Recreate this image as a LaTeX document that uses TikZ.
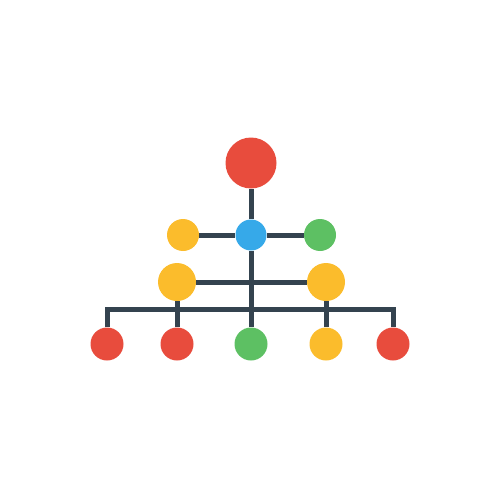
\documentclass[tikz,border=0pt]{standalone}
\usepackage{xcolor}
\usepackage{tikz}
\definecolor{cRed}{HTML}{E84C3D}
\definecolor{cBlue}{HTML}{36A9E9}
\definecolor{cYellow}{HTML}{FBBC2C}
\definecolor{cGreen}{HTML}{5DC063}
\definecolor{cLine}{HTML}{34434F}
\tikzset{
  dot/.style={circle, fill=#1, inner sep=0pt},
  link/.style={draw=cLine, line width=5*0.02cm, line join=miter}
}
\begin{document}
\begin{tikzpicture}[x=0.02cm, y=-0.02cm]
\useasboundingbox (0,0) rectangle (500,500);
\node [dot=cRed, minimum size=51*0.02cm] (top) at (251,163) {};
\node [dot=cBlue, minimum size=31*0.02cm] (hub) at (251,235) {};
\node [dot=cYellow, minimum size=32*0.02cm] (left) at (183,235) {};
\node [dot=cGreen, minimum size=32*0.02cm] (right) at (320,235) {};
\node [dot=cYellow, minimum size=38*0.02cm] (midL) at (177,282) {};
\node [dot=cYellow, minimum size=38*0.02cm] (midR) at (326,282) {};
\node [dot=cRed, minimum size=33*0.02cm] (b1) at (107,344) {};
\node [dot=cRed, minimum size=33*0.02cm] (b2) at (177,344) {};
\node [dot=cGreen, minimum size=33*0.02cm] (b3) at (251,344) {};
\node [dot=cYellow, minimum size=33*0.02cm] (b4) at (326,344) {};
\node [dot=cRed, minimum size=33*0.02cm] (b5) at (393,344) {};
\coordinate (barL) at (107,309);
\coordinate (barR) at (393,309);
\draw [link] (top) -- (hub);
\draw [link] (hub) -- (b3);
\draw [link] (left) -- (hub);
\draw [link] (hub) -- (right);
\draw [link] (midL) -- (midR);
\draw [link] (midL) -- (b2);
\draw [link] (midR) -- (b4);
\draw [link] (b1) -- (barL) -- (barR) -- (b5);
\end{tikzpicture}
\end{document}
